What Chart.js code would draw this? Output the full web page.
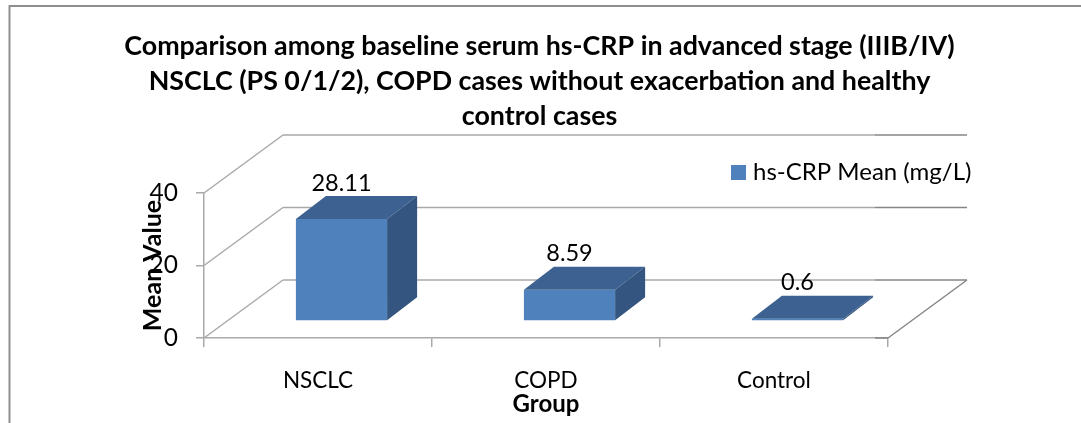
<!DOCTYPE html>
<html>
<head>
<meta charset="utf-8">
<title>hs-CRP comparison</title>
<script src="https://cdn.jsdelivr.net/npm/chart.js@4"></script>
<style>
  html, body { margin: 0; padding: 0; background: #fff; }
  #wrap { width: 1081px; height: 423px; }
</style>
</head>
<body>
<div id="wrap"><canvas id="chart" width="1081" height="423"></canvas></div>
<script>
const TITLE_LINES = [
  "Comparison among baseline serum hs-CRP in advanced stage (IIIB/IV)",
  "NSCLC (PS 0/1/2), COPD cases without exacerbation and healthy",
  "control cases",
];
const CATEGORIES = ["NSCLC", "COPD", "Control"];
const HS_CRP_MEAN = [28.11, 8.59, 0.6];
const VALUE_LABELS = ["28.11", "8.59", "0.6"];
const SERIES_NAME = "hs-CRP Mean (mg/L)";
const Y_TICKS = [0, 20, 40];

const FONT = "Lato";
const GRID = "#a9a9a9";
const GRID_DARK = "#868686";

// depth of the fake 3d box and of each bar, in px
const WALL_DX = 79, WALL_DY = -58;
const BAR_DX = 30, BAR_DY = -23;
const SHIFT_X = 23.5, SHIFT_Y = -17;
const DARK_FROM = 875;

function poly(ctx, pts, fill) {
  ctx.beginPath();
  pts.forEach(([x, y], i) => (i ? ctx.lineTo(x, y) : ctx.moveTo(x, y)));
  ctx.closePath();
  ctx.fillStyle = fill;
  ctx.fill();
}

function line(ctx, x1, y1, x2, y2, color, w = 1.5) {
  ctx.beginPath();
  ctx.moveTo(x1, y1);
  ctx.lineTo(x2, y2);
  ctx.strokeStyle = color;
  ctx.lineWidth = w;
  ctx.stroke();
}

const frame3d = {
  id: "frame3d",
  afterLayout(chart) {
    // title is centred on the page, not on the plot
    chart.titleBlock.left = 0;
    chart.titleBlock.right = 1079;
  },
  beforeDatasetsDraw(chart) {
    const { ctx, scales: { x, y } } = chart;
    ctx.save();
    // page frame, only top and left are visible
    ctx.beginPath();
    ctx.moveTo(9.5, 423);
    ctx.lineTo(9.5, 6);
    ctx.lineTo(1081, 6);
    ctx.strokeStyle = "#8f8f8f";
    ctx.lineWidth = 2;
    ctx.stroke();

    // side wall and back wall lines at every tick
    Y_TICKS.forEach((t) => {
      const py = y.getPixelForValue(t);
      const bx = x.left + WALL_DX, by = py + WALL_DY;
      line(ctx, x.left, py, bx, by, GRID);
      line(ctx, bx, by, DARK_FROM, by, GRID);
      line(ctx, DARK_FROM, by, x.right + WALL_DX, by, GRID_DARK, 1.5);
    });
    // floor, right edge
    const y0 = y.getPixelForValue(0);
    line(ctx, DARK_FROM, y0, x.right, y0, GRID_DARK);
    line(ctx, x.right, y0, x.right + WALL_DX, y0 + WALL_DY, GRID_DARK);
    ctx.restore();

    // bars sit in the middle of the floor depth
    ctx.save();
    ctx.translate(SHIFT_X, SHIFT_Y);
  },
  afterDatasetsDraw(chart) {
    const { ctx } = chart;
    const bars = chart.getDatasetMeta(0).data;
    bars.forEach((b) => {
      const l = b.x - b.width / 2, r = b.x + b.width / 2;
      poly(ctx, [[l, b.y], [r, b.y], [r + BAR_DX, b.y + BAR_DY], [l + BAR_DX, b.y + BAR_DY]], "#3d6291");
      poly(ctx, [[r, b.y], [r, b.base], [r + BAR_DX, b.base + BAR_DY], [r + BAR_DX, b.y + BAR_DY]], "#34557f");
    });
    ctx.restore();

    // value labels
    ctx.save();
    ctx.font = `23.5px ${FONT}`;
    ctx.fillStyle = "#000";
    ctx.textAlign = "center";
    ctx.textBaseline = "middle";
    bars.forEach((b, i) => {
      ctx.fillText(VALUE_LABELS[i], b.x + SHIFT_X, b.y + SHIFT_Y - 36);
    });

    // legend
    ctx.fillStyle = "#4f81bd";
    ctx.fillRect(731, 165, 15, 15);
    ctx.fillStyle = "#000";
    ctx.textAlign = "left";
    ctx.font = `24px ${FONT}`;
    ctx.fillText(chart.data.datasets[0].label, 753, 172);
    ctx.restore();
  },
};

new Chart(document.getElementById("chart"), {
  type: "bar",
  plugins: [frame3d],
  data: {
    labels: CATEGORIES,
    datasets: [
      {
        label: SERIES_NAME,
        data: HS_CRP_MEAN,
        backgroundColor: "#4f81bd",
        barPercentage: 0.4,
        categoryPercentage: 1,
        clip: false,
      },
    ],
  },
  options: {
    responsive: false,
    animation: false,
    layout: { padding: { top: 20, right: 193, left: 0, bottom: 0 } },
    plugins: {
      legend: { display: false },
      tooltip: { enabled: false },
      title: {
        display: true,
        text: TITLE_LINES,
        color: "#000",
        font: { family: FONT, size: 26.8, weight: "bold", lineHeight: 1.306 },
        padding: { top: 8.5, bottom: 59.5 },
        align: "center",
      },
    },
    scales: {
      x: {
        afterFit(s) { s.height = 85; },
        grid: { drawOnChartArea: false, tickLength: 9, color: GRID, lineWidth: 1.5 },
        border: { color: GRID, width: 1.5 },
        ticks: { color: "#000", font: { family: FONT, size: 22.5 }, padding: 20, maxRotation: 0 },
        title: {
          display: true,
          text: "Group",
          color: "#000",
          font: { family: FONT, size: 24, weight: "bold" },
          padding: { top: 0, bottom: 4 },
        },
      },
      y: {
        min: 0,
        max: 40,
        afterFit(s) { s.width = 204; },
        afterBuildTicks(s) { s.ticks = Y_TICKS.map((value) => ({ value })); },
        grid: { drawOnChartArea: false, tickLength: 8, color: GRID, lineWidth: 1.5 },
        border: { color: GRID, width: 1.5 },
        ticks: { color: "#000", font: { family: FONT, size: 24.5 }, padding: 18 },
        title: {
          display: true,
          text: "Mean Value",
          color: "#000",
          font: { family: FONT, size: 25, weight: "bold" },
          padding: { top: 137.5, bottom: 0 },
        },
      },
    },
  },
});
</script>
</body>
</html>
